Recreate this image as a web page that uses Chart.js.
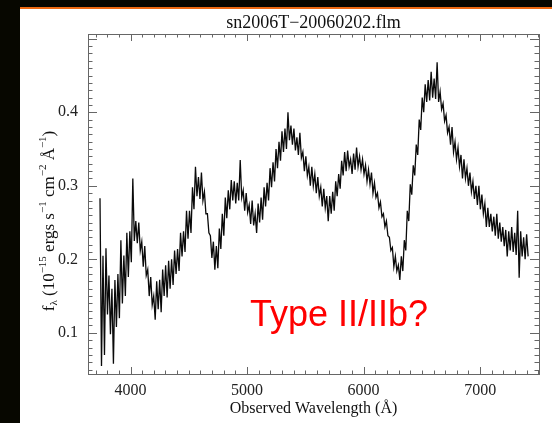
<!DOCTYPE html>
<html>
<head>
<meta charset="utf-8">
<title>sn2006T spectrum</title>
<script src="https://cdn.jsdelivr.net/npm/chart.js@4.4.1/dist/chart.umd.min.js"></script>
<style>
  html, body { margin: 0; padding: 0; }
  body { width: 552px; height: 423px; background: #070700; position: relative; overflow: hidden; }
  #rule { position: absolute; left: 20px; top: 7px; width: 532px; height: 2px; background: #ee6a12; }
  #panel { position: absolute; left: 20px; top: 9px; width: 532px; height: 414px; background: #fff; }
</style>
</head>
<body>
<div id="rule"></div>
<div id="panel"><canvas id="spec" width="532" height="414"></canvas></div>
<script>
// sn2006T, observed 2006-02-02: flux density sampled on an even wavelength grid
const specName = 'sn2006T\u221220060202.flm';
const lambdaStart = 3738;   // Angstrom
const lambdaStep = 12.8;    // Angstrom per sample
const flux = [
  0.283, 0.055, 0.205, 0.070, 0.215, 0.125, 0.178, 0.098, 0.160, 0.058,
  0.172, 0.108, 0.180, 0.120, 0.226, 0.140, 0.205, 0.150, 0.236, 0.176,
  0.238, 0.196, 0.310, 0.225, 0.252, 0.222, 0.250, 0.212, 0.224, 0.190,
  0.218, 0.178, 0.186, 0.150, 0.176, 0.138, 0.150, 0.118, 0.170, 0.132,
  0.172, 0.128, 0.186, 0.150, 0.192, 0.148, 0.198, 0.160, 0.200, 0.165,
  0.212, 0.180, 0.214, 0.184, 0.236, 0.204, 0.238, 0.210, 0.266, 0.228,
  0.266, 0.236, 0.298, 0.268, 0.326, 0.286, 0.312, 0.282, 0.318, 0.280,
  0.292, 0.262, 0.262, 0.236, 0.232, 0.202, 0.224, 0.186, 0.218, 0.188,
  0.242, 0.214, 0.262, 0.232, 0.284, 0.256, 0.294, 0.268, 0.308, 0.280,
  0.306, 0.276, 0.304, 0.280, 0.335, 0.284, 0.294, 0.266, 0.290, 0.264,
  0.274, 0.248, 0.280, 0.246, 0.262, 0.236, 0.276, 0.250, 0.284, 0.254,
  0.298, 0.272, 0.304, 0.280, 0.324, 0.298, 0.332, 0.306, 0.350, 0.324,
  0.360, 0.334, 0.374, 0.346, 0.378, 0.350, 0.400, 0.362, 0.382, 0.356,
  0.378, 0.348, 0.366, 0.342, 0.372, 0.338, 0.346, 0.320, 0.340, 0.314,
  0.326, 0.300, 0.326, 0.300, 0.316, 0.290, 0.312, 0.286, 0.298, 0.272,
  0.296, 0.270, 0.286, 0.252, 0.286, 0.262, 0.292, 0.266, 0.306, 0.286,
  0.316, 0.296, 0.334, 0.314, 0.346, 0.320, 0.348, 0.326, 0.336, 0.316,
  0.344, 0.322, 0.352, 0.326, 0.340, 0.322, 0.336, 0.316, 0.328, 0.306,
  0.322, 0.302, 0.318, 0.290, 0.304, 0.284, 0.290, 0.270, 0.278, 0.258,
  0.262, 0.244, 0.252, 0.232, 0.230, 0.212, 0.216, 0.190, 0.204, 0.184,
  0.192, 0.172, 0.204, 0.184, 0.226, 0.212, 0.266, 0.252, 0.302, 0.288,
  0.328, 0.314, 0.356, 0.342, 0.390, 0.376, 0.420, 0.400, 0.438, 0.414,
  0.444, 0.416, 0.455, 0.420, 0.446, 0.418, 0.468, 0.414, 0.428, 0.404,
  0.412, 0.388, 0.396, 0.372, 0.380, 0.356, 0.380, 0.346, 0.360, 0.336,
  0.352, 0.326, 0.342, 0.310, 0.336, 0.310, 0.324, 0.300, 0.318, 0.292,
  0.306, 0.282, 0.300, 0.274, 0.300, 0.268, 0.288, 0.262, 0.276, 0.244,
  0.270, 0.244, 0.262, 0.238, 0.258, 0.232, 0.262, 0.228, 0.250, 0.224,
  0.244, 0.218, 0.240, 0.204, 0.238, 0.212, 0.244, 0.210, 0.236, 0.206,
  0.266, 0.175, 0.238, 0.204, 0.230, 0.200, 0.234, 0.204
];

// axis ranges and labelled ticks
const xRange = [3635, 7505];
const yRange = [0.044, 0.5065];
const xMajor = [4000, 5000, 6000, 7000];
const yMajor = [0.1, 0.2, 0.3, 0.4];

// text placed inside the plot, anchored in data units
const noteText = 'Type II/IIb?';
const noteAt = { x: 5025, y: 0.1093 };

const points = flux.map((f, i) => ({ x: lambdaStart + i * lambdaStep, y: f }));

const serif = 'Liberation Serif, Times New Roman, serif';

// IDL-style frame: box on all four sides with inward major/minor ticks
const frameTicks = {
  id: 'frameTicks',
  afterDraw(chart) {
    const { ctx, chartArea: a } = chart;
    const x = chart.scales.x, y = chart.scales.y;
    ctx.save();
    ctx.strokeStyle = '#666';
    ctx.lineWidth = 1;
    ctx.strokeRect(Math.round(a.left) + 0.5, Math.round(a.top) + 0.5,
      Math.round(a.right - a.left), Math.round(a.bottom - a.top));
    const segs = [];
    for (let v = Math.ceil(x.min / 100) * 100; v <= x.max; v += 100) {
      const px = Math.round(x.getPixelForValue(v)) + 0.5;
      const len = xMajor.includes(v) ? 7 : 3.5;
      segs.push([px, a.bottom, px, a.bottom - len], [px, a.top, px, a.top + len]);
    }
    for (let c = Math.ceil(y.min * 100); c <= Math.floor(y.max * 100); c++) {
      const py = Math.round(y.getPixelForValue(c / 100)) + 0.5;
      const len = c % 10 === 0 ? 9 : 4.5;
      segs.push([a.left, py, a.left + len, py], [a.right, py, a.right - len, py]);
    }
    segs.forEach(([x0, y0, x1, y1]) => {
      ctx.beginPath();
      ctx.moveTo(x0, y0);
      ctx.lineTo(x1, y1);
      ctx.stroke();
    });
    ctx.restore();
  }
};

// plot title, y-axis title with super/subscripts, and the red note
const labels = {
  id: 'textLabels',
  afterDraw(chart) {
    const { ctx, chartArea: a } = chart;
    const x = chart.scales.x, y = chart.scales.y;
    ctx.save();

    ctx.fillStyle = '#111';
    ctx.font = '18px ' + serif;
    ctx.textAlign = 'center';
    ctx.textBaseline = 'alphabetic';
    ctx.fillText(specName, (a.left + a.right) / 2, 19);

    // f_lambda (10^-15 ergs s^-1 cm^-2 A^-1)
    const parts = [
      ['f', 0], ['\u03bb', 1], [' (10', 0], ['\u221215', 2], [' ergs s', 0], ['\u22121', 2],
      [' cm', 0], ['\u22122', 2], [' \u00c5', 0], ['\u22121', 2], [')', 0]
    ];
    const fontFor = k => (k === 0 ? '17px ' : '11px ') + serif;
    let total = 0;
    parts.forEach(([s, k]) => { ctx.font = fontFor(k); total += ctx.measureText(s).width; });
    ctx.translate(34, 212);
    ctx.rotate(-Math.PI / 2);
    ctx.textAlign = 'left';
    let cx = -total / 2;
    parts.forEach(([s, k]) => {
      ctx.font = fontFor(k);
      const dy = k === 1 ? 3 : k === 2 ? -8 : 0;
      ctx.fillText(s, cx, dy);
      cx += ctx.measureText(s).width;
    });
    ctx.setTransform(1, 0, 0, 1, 0, 0);

    ctx.fillStyle = '#ff0000';
    ctx.font = '36px Liberation Sans, Arial, sans-serif';
    ctx.textAlign = 'left';
    ctx.textBaseline = 'alphabetic';
    ctx.fillText(noteText, x.getPixelForValue(noteAt.x), y.getPixelForValue(noteAt.y));
    ctx.restore();
  }
};

new Chart(document.getElementById('spec'), {
  type: 'line',
  data: {
    datasets: [{
      data: points,
      borderColor: '#0a0a0a',
      borderWidth: 1.3,
      pointRadius: 0,
      tension: 0,
      fill: false
    }]
  },
  options: {
    responsive: false,
    animation: false,
    events: [],
    layout: { padding: { top: 25, right: 13, left: 0, bottom: 0 } },
    plugins: { legend: { display: false }, tooltip: { enabled: false }, title: { display: false } },
    scales: {
      x: {
        type: 'linear',
        min: xRange[0],
        max: xRange[1],
        afterFit: s => { s.height = 49; },
        grid: { display: false, drawTicks: false },
        border: { display: false },
        ticks: {
          stepSize: 100,
          autoSkip: false,
          maxRotation: 0,
          padding: 7,
          color: '#222',
          font: { family: serif, size: 16 },
          callback: v => (xMajor.includes(Math.round(v)) ? String(Math.round(v)) : '')
        },
        title: {
          display: true,
          text: 'Observed Wavelength (\u00c5)',
          color: '#111',
          font: { family: serif, size: 16 },
          padding: { top: 0, bottom: 5 }
        }
      },
      y: {
        type: 'linear',
        min: yRange[0],
        max: yRange[1],
        afterFit: s => { s.width = 68; },
        grid: { display: false, drawTicks: false },
        border: { display: false },
        ticks: {
          stepSize: 0.01,
          autoSkip: false,
          padding: 10,
          color: '#222',
          font: { family: serif, size: 16 },
          callback: v => {
            const m = yMajor.find(t => Math.abs(t - v) < 1e-6);
            return m === undefined ? '' : m.toFixed(1);
          }
        }
      }
    }
  },
  plugins: [frameTicks, labels]
});
</script>
</body>
</html>
